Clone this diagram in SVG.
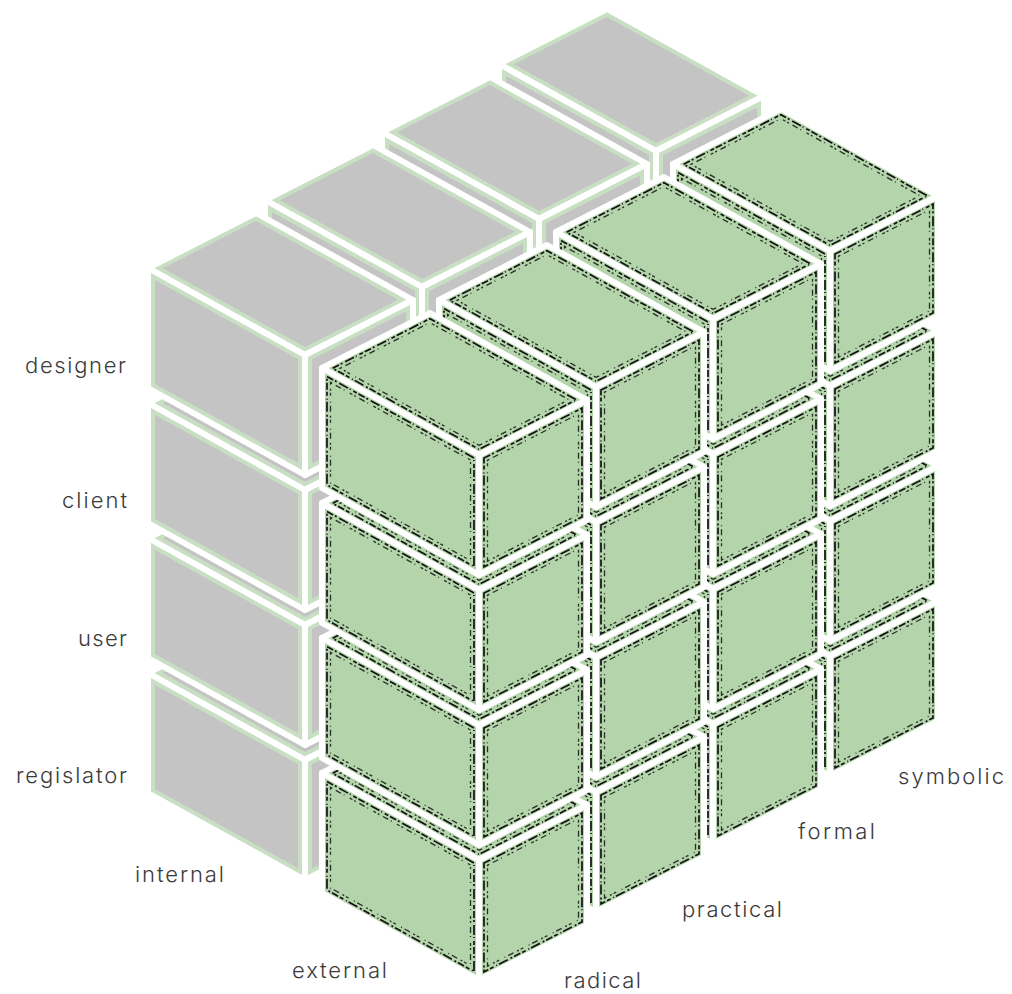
<svg xmlns="http://www.w3.org/2000/svg" width="1012" height="994" viewBox="0 0 1012 994">
<style>
.w{fill:none;stroke:#fff;stroke-width:6;stroke-linejoin:round}
.g{fill:#b4d5ab}
.n1{fill:none;stroke:#111;stroke-width:1.7;stroke-dasharray:7 2 2 3 10 2 1 3 4 2}
.n2{fill:none;stroke:#111;stroke-width:1.3;stroke-dasharray:2 4 6 3 1 6 3 2;opacity:.85}
.pg{fill:#c8dfc3}
.gr{fill:#c4c4c4}
text{font-family:Inter,"Open Sans","Liberation Sans",sans-serif;font-weight:300;font-size:22px;fill:#3a3a3a}
</style>
<defs>
<g id="cG">
<polygon class="g" points="0,0 108,-55 265,32 157,87"/>
<polygon class="n1" points="10.65,0.19 107.9,-49.34 254.35,31.81 157.1,81.34"/>
<polygon class="n2" points="18.11,0.32 107.83,-45.37 246.89,31.68 157.17,77.37"/>
<polygon class="w" points="0,0 108,-55 265,32 157,87"/>
<polygon class="g" points="0,0 157,87 157,207 0,120"/>
<polygon class="n1" points="5,8.49 152,89.95 152,198.51 5,117.05"/>
<polygon class="n2" points="8.5,14.43 148.5,92.01 148.5,192.57 8.5,114.99"/>
<polygon class="w" points="0,0 157,87 157,207 0,120"/>
<polygon class="g" points="157,87 265,32 265,152 157,207"/>
<polygon class="n1" points="162,90.07 260,40.16 260,148.94 162,198.84"/>
<polygon class="n2" points="165.5,92.21 256.5,45.87 256.5,146.79 165.5,193.13"/>
<polygon class="w" points="157,87 265,32 265,152 157,207"/>
</g>
<g id="cI">
<polygon class="pg" points="0,0 108,-55 265,32 157,87"/>
<polygon class="gr" points="14.91,0.26 107.86,-47.07 250.09,31.74 157.14,79.07"/>
<polygon class="w" points="0,0 108,-55 265,32 157,87"/>
<polygon class="pg" points="0,0 157,87 157,207 0,120"/>
<polygon class="gr" points="7,11.88 150,91.12 150,195.12 7,115.88"/>
<polygon class="w" points="0,0 157,87 157,207 0,120"/>
<polygon class="pg" points="157,87 265,32 265,152 157,207"/>
<polygon class="gr" points="164,91.29 258,43.42 258,147.71 164,195.58"/>
<polygon class="w" points="157,87 265,32 265,152 157,207"/>
</g>
</defs>
<g id="cubes">
<g id="internal-symbolic-regislator"><use href="#cI" x="499" y="469"/></g>
<g id="internal-symbolic-user"><use href="#cI" x="499" y="334"/></g>
<g id="internal-formal-regislator"><use href="#cI" x="382" y="537"/></g>
<g id="external-symbolic-regislator"><use href="#cG" x="673" y="569"/></g>
<g id="internal-symbolic-client"><use href="#cI" x="499" y="199"/></g>
<g id="internal-formal-user"><use href="#cI" x="382" y="402"/></g>
<g id="internal-practical-regislator"><use href="#cI" x="265" y="605"/></g>
<g id="external-symbolic-user"><use href="#cG" x="673" y="434"/></g>
<g id="external-formal-regislator"><use href="#cG" x="556" y="637"/></g>
<g id="internal-symbolic-designer"><use href="#cI" x="499" y="64"/></g>
<g id="internal-formal-client"><use href="#cI" x="382" y="267"/></g>
<g id="internal-practical-user"><use href="#cI" x="265" y="470"/></g>
<g id="internal-radical-regislator"><use href="#cI" x="148" y="673"/></g>
<g id="external-symbolic-client"><use href="#cG" x="673" y="299"/></g>
<g id="external-formal-user"><use href="#cG" x="556" y="502"/></g>
<g id="external-practical-regislator"><use href="#cG" x="439" y="705"/></g>
<g id="internal-formal-designer"><use href="#cI" x="382" y="132"/></g>
<g id="internal-practical-client"><use href="#cI" x="265" y="335"/></g>
<g id="internal-radical-user"><use href="#cI" x="148" y="538"/></g>
<g id="external-symbolic-designer"><use href="#cG" x="673" y="164"/></g>
<g id="external-formal-client"><use href="#cG" x="556" y="367"/></g>
<g id="external-practical-user"><use href="#cG" x="439" y="570"/></g>
<g id="external-radical-regislator"><use href="#cG" x="322" y="773"/></g>
<g id="internal-practical-designer"><use href="#cI" x="265" y="200"/></g>
<g id="internal-radical-client"><use href="#cI" x="148" y="403"/></g>
<g id="external-formal-designer"><use href="#cG" x="556" y="232"/></g>
<g id="external-practical-client"><use href="#cG" x="439" y="435"/></g>
<g id="external-radical-user"><use href="#cG" x="322" y="638"/></g>
<g id="internal-radical-designer"><use href="#cI" x="148" y="268"/></g>
<g id="external-practical-designer"><use href="#cG" x="439" y="300"/></g>
<g id="external-radical-client"><use href="#cG" x="322" y="503"/></g>
<g id="external-radical-designer"><use href="#cG" x="322" y="368"/></g>
</g>
<g id="labels">
<text x="25" y="373" textLength="101">designer</text>
<text x="62" y="508" textLength="65">client</text>
<text x="78" y="646" textLength="49">user</text>
<text x="16" y="783" textLength="111">regislator</text>
<text x="135" y="882" textLength="89">internal</text>
<text x="292" y="978" textLength="95">external</text>
<text x="564" y="988" textLength="77">radical</text>
<text x="682" y="917" textLength="100">practical</text>
<text x="798" y="839" textLength="77">formal</text>
<text x="898" y="784" textLength="106">symbolic</text>
</g>
</svg>
